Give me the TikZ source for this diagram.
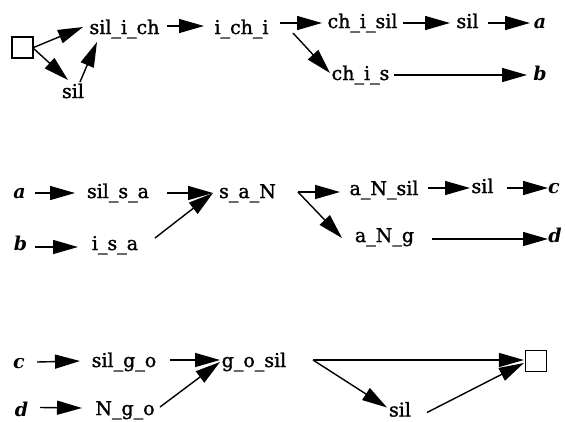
\documentclass[tikz,border=0pt]{standalone}
\usepackage{fontspec}
\setmainfont{DejaVu Serif}
\newfontfamily\statefont{DejaVu Serif}[FakeBold=1.5]
\usetikzlibrary{arrows.meta,calc}
\tikzset{
  lbl/.style={inner sep=0pt, anchor=base, font=\statefont\fontsize{19}{21}\selectfont},
  term/.style={inner sep=0pt, anchor=base, font=\fontsize{19}{21}\selectfont\bfseries\itshape},
  endbox/.style={draw, line width=1.2pt, minimum size=21pt, inner sep=0pt},
  arr/.style={line width=1.4pt, -{Triangle[length=25pt,width=14pt]}},
}
\begin{document}
\begin{tikzpicture}[x=1pt,y=-1pt]
\useasboundingbox (0,0) rectangle (565,421);

% ---- first network: sil_i_ch ... ----
\node[endbox] (sq1) at (22.5,47.5) {};
\node[lbl] (silich) at (124.5,34) {sil\_i\_ch};
\node[lbl] (ichi)   at (241.5,34) {i\_ch\_i};
\node[lbl] (chisil) at (362.5,28) {ch\_i\_sil};
\node[lbl] (silA)   at (467.5,28) {sil};
\node[term] (a1)    at (540,28) {a};
\node[lbl] (silB)   at (73,98) {sil};
\node[lbl] (chis)   at (360.5,80) {ch\_i\_s};
\node[term] (b1)    at (540,80) {b};

\draw[arr] (sq1.east) -- ($(silich.base)+(-41.5,-7)$);
\draw[arr] ($(sq1.east)+(0,1)$) -- ($(silB.base)+(-5,-18)$);
\draw[arr] ($(silB.base)+(7,-16)$) -- ($(silich.base)+(-27.5,8)$);
\draw[arr] ($(silich.base)+(42.5,-8)$) -- ($(ichi.base)+(-37.5,-8)$);
\draw[arr] ($(ichi.base)+(38.5,-11)$) -- ($(chisil.base)+(-40.5,-5)$);
\draw[arr] ($(ichi.base)+(51.5,-1)$) -- ($(chis.base)+(-30.5,-7)$);
\draw[arr] ($(chisil.base)+(40.5,-5)$) -- ($(silA.base)+(-17.5,-5)$);
\draw[arr] ($(silA.base)+(20.5,-5)$) -- ($(a1.base)+(-10,-5)$);
\draw[arr] ($(chis.base)+(33.5,-5)$) -- ($(b1.base)+(-13,-5)$);

% ---- second network: sil_s_a ... ----
\node[term] (a2)    at (19.5,198) {a};
\node[lbl] (silsa)  at (118,198) {sil\_s\_a};
\node[lbl] (san)    at (247.5,198) {s\_a\_N};
\node[term] (b2)    at (20.5,250) {b};
\node[lbl] (isa)    at (115,250) {i\_s\_a};
\node[lbl] (ansil)  at (384,195) {a\_N\_sil};
\node[lbl] (silC)   at (482.5,193) {sil};
\node[term] (c2)    at (554,193) {c};
\node[lbl] (ang)    at (384.5,242) {a\_N\_g};
\node[term] (d2)    at (555,242) {d};

\draw[arr] ($(a2.base)+(15.5,-5)$) -- ($(silsa.base)+(-43,-5)$);
\draw[arr] ($(silsa.base)+(49,-5)$) -- ($(san.base)+(-34.5,-5)$);
\draw[arr] ($(b2.base)+(14.5,-3)$) -- ($(isa.base)+(-37,-3)$);
\draw[arr] ($(isa.base)+(40,-12)$) -- ($(san.base)+(-34.5,-5)$);
\draw[arr] ($(san.base)+(50.5,-6)$) -- ($(ansil.base)+(-44,-3)$);
\draw[arr] ($(san.base)+(50.5,-6)$) -- ($(ang.base)+(-42.5,-4)$);
\draw[arr] ($(ansil.base)+(44,-7)$) -- ($(silC.base)+(-12.5,-5)$);
\draw[arr] ($(silC.base)+(24.5,-5)$) -- ($(c2.base)+(-6,-5)$);
\draw[arr] ($(ang.base)+(47.5,-3)$) -- ($(d2.base)+(-7,-3)$);

% ---- third network: sil_g_o ... ----
\node[term] (c3)    at (19,368) {c};
\node[lbl] (silgo)  at (124,367) {sil\_g\_o};
\node[lbl] (gosil)  at (254,367) {g\_o\_sil};
\node[term] (d3)    at (21.5,416.5) {d};
\node[lbl] (ngo)    at (125,415) {N\_g\_o};
\node[lbl] (silD)   at (400,416.5) {sil};
\node[endbox] (sq2) at (536,361) {};

\draw[arr] ($(c3.base)+(18,-6)$) -- ($(silgo.base)+(-44,-6)$);
\draw[arr] ($(silgo.base)+(46,-7)$) -- ($(gosil.base)+(-34,-7)$);
\draw[arr] ($(d3.base)+(18.5,-9)$) -- ($(ngo.base)+(-43,-7)$);
\draw[arr] ($(ngo.base)+(35,-8)$) -- ($(gosil.base)+(-34,-5)$);
\draw[arr] ($(gosil.base)+(59,-7)$) -- ($(sq2.west)+(-1,-1)$);
\draw[arr] ($(gosil.base)+(59,-7)$) -- ($(silD.base)+(-13,-9)$);
\draw[arr] ($(silD.base)+(27,-4)$) -- ($(sq2.west)+(-1,2)$);
\end{tikzpicture}
\end{document}
